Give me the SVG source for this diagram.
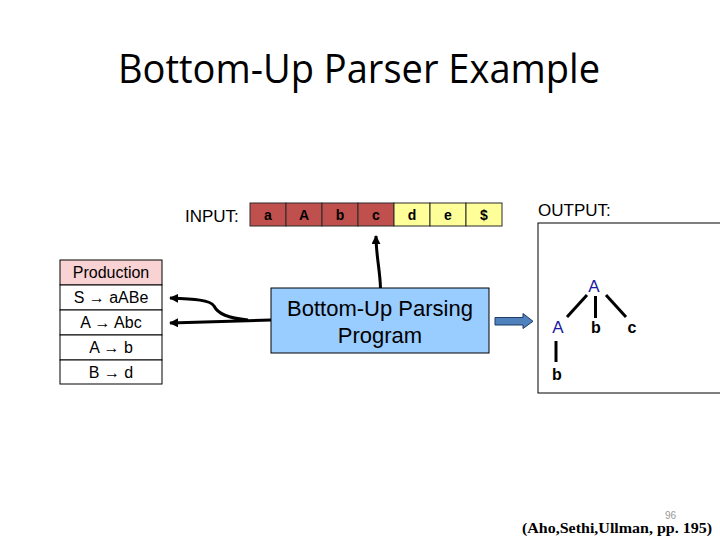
<svg xmlns="http://www.w3.org/2000/svg" width="720" height="540" viewBox="0 0 720 540">
<defs>
<style>
.sans{font-family:"Liberation Sans",Arial,sans-serif;}
.cellR{fill:#c0504d;stroke:#2a2a2a;stroke-width:1;}
.cellY{fill:#ffff99;stroke:#2a2a2a;stroke-width:1;}
.ct{font-family:"Liberation Sans",Arial,sans-serif;font-size:14px;font-weight:bold;text-anchor:middle;fill:#000;}
.row{fill:#fff;stroke:#000;stroke-width:1;}
.rt{font-family:"Liberation Sans",Arial,sans-serif;font-size:16px;text-anchor:middle;fill:#000;}
.conn{fill:none;stroke:#000;stroke-width:3;}
.tree{stroke:#000;stroke-width:3;}
.tb{font-family:"Liberation Sans",Arial,sans-serif;font-size:16px;font-weight:bold;text-anchor:middle;fill:#000;}
.ta{font-family:"Liberation Sans",Arial,sans-serif;font-size:17px;text-anchor:middle;fill:#1a1aa0;}
</style>
<marker id="ah" viewBox="0 0 10 10" refX="9" refY="5" markerWidth="3" markerHeight="3" orient="auto" markerUnits="strokeWidth">
<path d="M0,0 L10,5 L0,10 z" fill="#000"/>
</marker>
</defs>
<rect width="720" height="540" fill="#fff"/>
<text x="359" y="83" font-family="'Open Sans','Noto Sans',sans-serif" font-size="40" text-anchor="middle" textLength="482" lengthAdjust="spacingAndGlyphs" fill="#000">Bottom-Up Parser Example</text>

<g id="input">
<text x="185" y="222" class="sans" font-size="17">INPUT:</text>
<rect x="250" y="203" width="36" height="23" class="cellR"/>
<rect x="286" y="203" width="36" height="23" class="cellR"/>
<rect x="322" y="203" width="36" height="23" class="cellR"/>
<rect x="358" y="203" width="36" height="23" class="cellR"/>
<rect x="394" y="203" width="36" height="23" class="cellY"/>
<rect x="430" y="203" width="36" height="23" class="cellY"/>
<rect x="466" y="203" width="36" height="23" class="cellY"/>
<text x="268" y="220" class="ct">a</text>
<text x="304" y="220" class="ct">A</text>
<text x="340" y="220" class="ct">b</text>
<text x="376" y="220" class="ct">c</text>
<text x="412" y="220" class="ct">d</text>
<text x="448" y="220" class="ct">e</text>
<text x="484" y="220" class="ct">$</text>
</g>

<g id="productions">
<rect x="60" y="260" width="102" height="25" fill="#f9d3d3" stroke="#000" stroke-width="1"/>
<rect x="60" y="285" width="102" height="25" class="row"/>
<rect x="60" y="310" width="102" height="25" class="row"/>
<rect x="60" y="335" width="102" height="25" class="row"/>
<rect x="60" y="360" width="102" height="24" class="row"/>
<text x="111" y="278" class="rt">Production</text>
<text x="111" y="303" class="rt">S → aABe</text>
<text x="111" y="328" class="rt">A → Abc</text>
<text x="111" y="353" class="rt">A → b</text>
<text x="111" y="378" class="rt">B → d</text>
</g>

<g id="program">
<rect x="271" y="288" width="218" height="65" fill="#99ccff" stroke="#000" stroke-width="1"/>
<text x="380" y="316" class="sans" font-size="22" text-anchor="middle">Bottom-Up Parsing</text>
<text x="380" y="343" class="sans" font-size="22" text-anchor="middle">Program</text>
</g>

<g id="output">
<text x="538" y="216" class="sans" font-size="17">OUTPUT:</text>
<rect x="538" y="223" width="200" height="170" fill="#fff" stroke="#000" stroke-width="1"/>
<text x="594" y="292" class="ta">A</text>
<line x1="587" y1="295" x2="567" y2="317" class="tree"/>
<line x1="595.5" y1="296" x2="595.5" y2="318" class="tree"/>
<line x1="606" y1="295" x2="626" y2="317" class="tree"/>
<text x="558" y="333" class="ta">A</text>
<text x="596" y="333" class="tb">b</text>
<text x="632" y="333" class="tb">c</text>
<line x1="556" y1="341" x2="556" y2="362" class="tree"/>
<text x="557" y="380" class="tb">b</text>
</g>

<g id="connectors">
<path d="M380.5,288 C380,270 376,255 376,236" class="conn" marker-end="url(#ah)"/>
<path d="M271,320 L170,323" class="conn" marker-end="url(#ah)"/>
<path d="M248,320 C228,318 218,314 214,306 C210,300 195,299 170,298" class="conn" marker-end="url(#ah)"/>
<path d="M495,317.5 L523,317.5 L523,313.5 L533,321.3 L523,328.5 L523,325 L495,325 z" fill="#4f81bd" stroke="#1f3a66" stroke-width="1"/>
</g>

<text x="676" y="519" font-family="'Liberation Sans',Arial,sans-serif" font-size="10" fill="#999" text-anchor="end">96</text>
<text x="617" y="533" font-family="'Liberation Serif','Times New Roman',serif" font-size="15" font-weight="bold" text-anchor="middle" textLength="190" lengthAdjust="spacingAndGlyphs">(Aho,Sethi,Ullman, pp. 195)</text>
</svg>
